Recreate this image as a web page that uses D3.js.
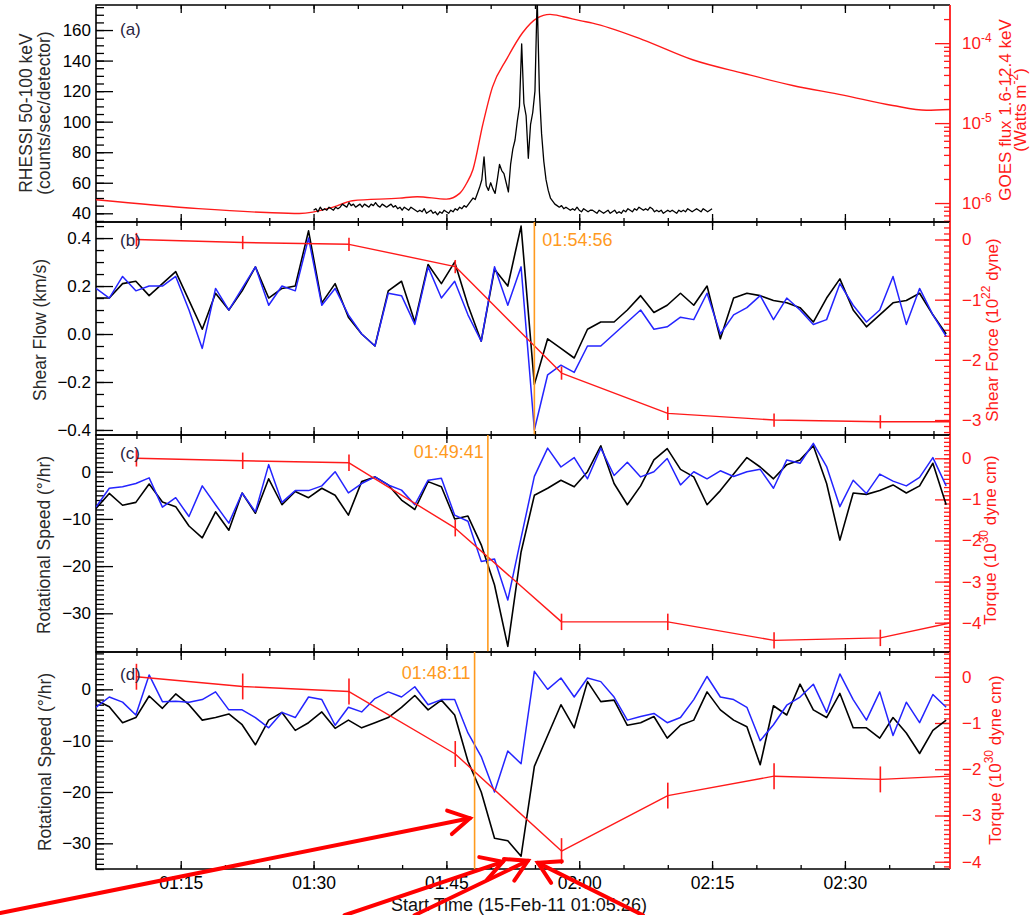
<!DOCTYPE html>
<html>
<head>
<meta charset="utf-8">
<script src="https://cdn.jsdelivr.net/npm/d3@7"></script>
<style>
  body { margin: 0; background: #fff; }
  svg text { font-family: "Liberation Sans", Arial, sans-serif; }
</style>
</head>
<body>
<div id="chart"></div>
<script>
// ---------------- data ----------------
var startTime = "01:05:26";
var endTime = "02:41:52";

// GOES 1.6-12.4 keV flux (W m^-2)
var goesTime = ["01:05:26","01:17:00","01:24:42","01:28:24","01:32:12","01:34:24","01:39:42","01:41:42",
  "01:45:00","01:46:30","01:47:18","01:48:00","01:49:06","01:50:12","01:51:48","01:53:36","01:55:12",
  "01:56:42","01:58:12","02:00:06","02:01:30","02:07:12","02:12:48","02:18:30","02:24:06","02:29:48",
  "02:35:24","02:39:12","02:41:52"];
var goesFlux = [1.10e-6,8.5e-7,7.6e-7,7.4e-7,8.9e-7,1.07e-6,1.15e-6,1.20e-6,
  1.12e-6,1.32e-6,1.78e-6,2.63e-6,9.5e-6,2.82e-5,6.3e-5,1.35e-4,2.04e-4,
  2.29e-4,2.14e-4,1.91e-4,1.78e-4,1.10e-4,6.2e-5,4.2e-5,2.95e-5,2.24e-5,
  1.66e-5,1.45e-5,1.48e-5];

// RHESSI 50-100 keV, 15 s cadence from 01:30:00
var rhessiStart = "01:30:00";
var rhessiStep = 15;
var rhessiCounts = [
  42,43,41,44,42,43,42,44,43,42,44,43,
  44,46,45,44,47,45,46,44,45,46,44,46,
  45,44,46,45,47,45,44,46,45,44,45,46,
  44,45,43,44,42,44,43,42,44,43,42,41,
  42,41,43,40,41,42,40,41,39,41,40,42,
  41,40,42,41,43,42,44,43,
  45,44,46,48,
  50,49,53,57,62,77,58,55,60,56,53,62,72,68,66,60,54,72,82,88,100,110,151,112,104,76,98,106,120,182,120,92,74,62,55,50,48,46,45,44,45,43,
  44,43,42,43,42,44,42,41,43,42,41,42,
  42,41,40,42,41,40,41,42,40,41,42,40,
  41,40,42,41,43,42,41,43,42,44,43,42,
  43,42,44,43,41,42,41,42,40,41,42,41,
  42,41,40,42,41,42,41,43,42,41,42,43,
  42,41,43,42,41,42,43];

// velocity series, 90 s cadence from 01:05:26
var speedStep = 90;
var shearFlowBlack = [0.15,0.15,0.21,0.22,0.16,0.21,0.26,0.14,0.02,0.17,
  0.10,0.18,0.28,0.15,0.19,0.20,0.43,0.13,0.21,0.07,
  0.00,-0.05,0.18,0.22,0.05,0.29,0.21,0.30,0.12,-0.03,
  0.27,0.20,0.45,-0.21,-0.02,-0.06,-0.10,0.02,0.05,0.05,
  0.10,0.16,0.09,0.12,0.17,0.12,0.20,-0.02,0.15,0.17,
  0.16,0.14,0.13,0.11,0.05,0.15,0.23,0.10,0.03,0.08,
  0.13,0.14,0.17,0.08,0.00];
var shearFlowBlue = [0.19,0.15,0.24,0.18,0.20,0.20,0.24,0.10,-0.06,0.19,
  0.10,0.19,0.28,0.12,0.20,0.18,0.40,0.12,0.19,0.08,
  0.00,-0.05,0.17,0.16,0.04,0.28,0.15,0.22,0.08,-0.03,
  0.28,0.12,0.28,-0.40,-0.17,-0.13,-0.16,-0.05,-0.05,0.00,
  0.05,0.10,0.02,0.03,0.07,0.06,0.17,0.00,0.08,0.11,
  0.16,0.06,0.15,0.10,0.04,0.06,0.21,0.12,0.05,0.10,
  0.24,0.04,0.19,0.08,-0.01];
var rotCBlack = [-7.8,-4.6,-7.1,-6.5,-2.6,-6.4,-7.4,-11.5,-14.0,-8.5,
  -12.4,-4.5,-8.8,-1.5,-7.0,-4.2,-5.5,-3.5,-5.0,-9.2,
  -2.1,-1.1,-2.8,-6.0,-8.0,-2.1,-3.2,-10.0,-9.4,-15.5,
  -24.0,-37.0,-17.0,-5.0,-3.5,-1.8,-3.2,0.0,5.5,-2.5,
  -7.0,-3.0,2.5,4.9,0.5,-1.1,-7.0,-4.0,-0.5,3.0,
  1.0,-1.5,1.5,2.5,5.5,-2.5,-14.5,-4.5,-4.8,-4.0,
  -2.8,-4.5,-3.0,1.8,-7.0];
var rotCBlue = [-7.5,-3.5,-3.2,-2.5,-1.3,-7.5,-5.5,-9.5,-3.0,-7.0,
  -10.9,-4.5,-8.5,1.5,-6.5,-4.0,-4.0,-3.0,0.0,-4.5,
  -2.5,-1.1,-2.8,-3.9,-7.0,-1.8,-1.4,-9.2,-10.5,-19.0,
  -18.5,-27.2,-14.0,-1.0,5.0,1.0,3.0,-1.5,5.0,-0.8,
  2.0,-1.1,0.0,2.8,-2.8,0.0,-1.5,0.2,-1.0,0.0,
  0.5,-3.5,2.5,1.8,6.0,1.1,-7.4,-1.8,-4.6,-0.5,
  -2.0,-3.0,-1.2,3.0,-3.0];
var rotDBlack = [-2.1,-3.4,-6.5,-5.5,-1.3,-3.7,-0.9,-3.0,-6.0,-5.5,
  -4.8,-6.9,-10.8,-6.0,-4.5,-8.0,-6.5,-4.4,-7.6,-6.0,
  -7.5,-6.5,-5.5,-3.5,-1.2,-4.0,-2.1,-5.0,-14.0,-20.0,
  -29.0,-29.5,-32.5,-15.0,-9.0,-3.0,-7.5,1.5,-2.4,-2.1,
  -7.0,-6.5,-5.3,-9.5,-7.0,-6.0,-0.5,-4.0,-6.0,-7.3,
  -14.7,-3.2,-5.0,1.0,-4.0,-5.5,-0.8,-7.5,-7.5,-9.5,
  -5.5,-8.5,-12.5,-8.0,-6.0];
var rotDBlue = [-3.5,-1.5,-2.5,-5.0,2.8,-2.4,-2.3,-2.5,-2.0,-0.5,
  -4.0,-4.0,-5.5,-7.5,-4.5,-5.5,-1.5,-2.0,-7.0,-3.5,
  -4.4,-1.8,-0.5,-1.5,0.5,-3.0,-2.0,-2.0,-8.5,-13.1,
  -20.0,-12.0,-14.5,3.5,0.0,2.2,-1.5,2.2,1.5,-1.5,
  -6.0,-5.3,-4.7,-6.5,-5.5,-2.0,2.5,-1.5,-2.0,-3.5,
  -10.0,-6.9,-3.1,-1.5,1.0,-4.5,3.0,-2.0,-6.0,-0.5,
  -9.0,-2.5,-6.5,-1.0,-3.5];

// force / torque estimates with error bars
var forceTime = ["01:10:00","01:22:00","01:34:00","01:46:00","01:58:00","02:10:00","02:22:00","02:34:00","02:46:00"];
var shearForce = [0.0,-0.05,-0.08,-0.45,-2.22,-2.89,-3.00,-3.03,-3.03];
var shearForceErr = [0.11,0.11,0.11,0.11,0.11,0.11,0.11,0.11,0.11];
var torqueC = [0.0,-0.06,-0.11,-1.70,-3.98,-3.98,-4.43,-4.37,-3.82];
var torqueCErr = [0.2,0.2,0.2,0.2,0.2,0.2,0.2,0.2,0.2];
var torqueD = [0.0,-0.21,-0.32,-1.67,-3.77,-2.57,-2.15,-2.22,-2.11];
var torqueDErr = [0.28,0.28,0.28,0.28,0.28,0.28,0.28,0.28,0.28];

// vertical markers
var markerB = "01:54:56", markerC = "01:49:41", markerD = "01:48:11";

// annotation arrows, in panel (d) coordinates: time, rotational speed
var arrowTailTime = ["00:54:34","01:33:30","01:41:24","02:07:12"];
var arrowTailVal = [-43.6,-44.0,-44.0,-44.0];
var arrowTipTime = ["01:47:39","01:51:22","01:54:12","01:55:20"];
var arrowTipVal = [-25.1,-33.6,-33.4,-33.8];

// ---------------- drawing ----------------
var W = 1031, H = 915;
var L = 96, R = 950;
var RED = "#ff1a1a", BLUE = "#2424ff", ORANGE = "#ff9a1e";
var parseT = d3.timeParse("%H:%M:%S");

var svg = d3.select("#chart").append("svg")
    .attr("width", W).attr("height", H)
    .style("background", "#fff");

var x = d3.scaleTime().domain([parseT(startTime), parseT(endTime)]).range([L, R]);

function seriesTimes(start, step, n) {
    var t = parseT(start);
    return d3.range(n).map(function(i) { return d3.timeSecond.offset(t, i * step); });
}

var panels = [
    {top: 5, bottom: 222},
    {top: 222, bottom: 435},
    {top: 435, bottom: 652},
    {top: 652, bottom: 869}
];

function styleAxis(g, color, size) {
    g.select(".domain").remove();
    g.selectAll("line").attr("stroke", color).attr("stroke-width", 1.3);
    g.selectAll("text").attr("fill", color).attr("font-size", size)
        .attr("font-family", "Liberation Sans, Arial, sans-serif");
}

function frame(p, showLabels) {
    var minor = d3.timeMinute.every(5).range(x.domain()[0], x.domain()[1]);
    var major = d3.timeMinute.every(15).range(x.domain()[0], x.domain()[1]);
    svg.append("g").attr("transform", "translate(0," + p.bottom + ")")
        .call(d3.axisBottom(x).tickValues(minor).tickSize(-4).tickFormat(""))
        .call(styleAxis, "#000", 17);
    svg.append("g").attr("transform", "translate(0," + p.bottom + ")")
        .call(d3.axisBottom(x).tickValues(major).tickSize(-8).tickPadding(8)
            .tickFormat(showLabels ? d3.timeFormat("%H:%M") : ""))
        .call(styleAxis, "#000", 17.5);
    svg.append("g").attr("transform", "translate(0," + p.top + ")")
        .call(d3.axisTop(x).tickValues(minor).tickSize(-4).tickFormat(""))
        .call(styleAxis, "#000", 17);
    svg.append("g").attr("transform", "translate(0," + p.top + ")")
        .call(d3.axisTop(x).tickValues(major).tickSize(-8).tickFormat(""))
        .call(styleAxis, "#000", 17);
    svg.append("path")
        .attr("d", "M" + R + "," + p.top + "H" + L + "V" + p.bottom + "H" + R)
        .attr("fill", "none").attr("stroke", "#000").attr("stroke-width", 1.6);
    svg.append("line").attr("x1", R).attr("x2", R).attr("y1", p.top).attr("y2", p.bottom)
        .attr("stroke", RED).attr("stroke-width", 1.8);
}

function leftAxis(y, major, minor, fmt) {
    svg.append("g").attr("transform", "translate(" + L + ",0)")
        .call(d3.axisLeft(y).tickValues(minor).tickSize(-8).tickFormat(""))
        .call(styleAxis, "#000", 17);
    svg.append("g").attr("transform", "translate(" + L + ",0)")
        .call(d3.axisLeft(y).tickValues(major).tickSize(-17).tickPadding(5).tickFormat(fmt))
        .call(styleAxis, "#000", 17);
}

function rightAxis(y, major, minor, fmt) {
    svg.append("g").attr("transform", "translate(" + R + ",0)")
        .call(d3.axisRight(y).tickValues(minor).tickSize(-6).tickFormat(""))
        .call(styleAxis, RED, 17);
    var g = svg.append("g").attr("transform", "translate(" + R + ",0)")
        .call(d3.axisRight(y).tickValues(major).tickSize(-15).tickPadding(12).tickFormat(fmt || ""))
        .call(styleAxis, RED, 17);
    return g;
}

function clipFor(p, id) {
    svg.append("clipPath").attr("id", id).append("rect")
        .attr("x", L).attr("y", p.top).attr("width", R - L).attr("height", p.bottom - p.top);
    return "url(#" + id + ")";
}

function titleLeft(text, cx, cy, color) {
    svg.append("text").attr("transform", "translate(" + cx + "," + cy + ") rotate(-90)")
        .attr("text-anchor", "middle").attr("dominant-baseline", "central")
        .attr("font-size", 17.5).attr("fill", color).text(text);
}

function panelLabel(text, p, dy) {
    svg.append("text").attr("x", 120).attr("y", p.top + dy)
        .attr("font-size", 17).attr("fill", "#2a2440").text(text);
}

function drawLine(data, times, y, color, width, clip, curve) {
    var line = d3.line().x(function(d, i) { return x(times[i]); }).y(function(d) { return y(d); });
    if (curve) line.curve(curve);
    svg.append("path").datum(data).attr("d", line).attr("fill", "none")
        .attr("stroke", color).attr("stroke-width", width)
        .attr("stroke-linejoin", "round").attr("clip-path", clip);
}

function drawForce(vals, errs, y, clip) {
    var times = forceTime.map(parseT);
    drawLine(vals, times, y, RED, 1.4, clip);
    svg.append("g").attr("clip-path", clip).selectAll("line")
        .data(vals).enter().append("line")
        .attr("x1", function(d, i) { return x(times[i]); })
        .attr("x2", function(d, i) { return x(times[i]); })
        .attr("y1", function(d, i) { return y(d - errs[i]); })
        .attr("y2", function(d, i) { return y(d + errs[i]); })
        .attr("stroke", RED).attr("stroke-width", 1.6);
}

function marker(t, p, label, anchor, dy) {
    var xm = x(parseT(t));
    svg.append("line").attr("x1", xm).attr("x2", xm).attr("y1", p.top).attr("y2", p.bottom)
        .attr("stroke", ORANGE).attr("stroke-width", 1.6);
    svg.append("text").attr("x", anchor === "start" ? xm + 8 : xm - 4).attr("y", p.top + dy)
        .attr("text-anchor", anchor).attr("font-size", 18).attr("fill", ORANGE).text(label);
}

function rightTitle(cx, cy, parts) {
    var t = svg.append("text").attr("transform", "translate(" + cx + "," + cy + ") rotate(-90)")
        .attr("text-anchor", "middle").attr("dominant-baseline", "central")
        .attr("font-size", 17).attr("fill", RED);
    parts.forEach(function(p) {
        var s = t.append("tspan").text(p[0]);
        if (p[1]) s.attr("dy", p[1]);
        if (p[2]) s.attr("font-size", p[2]);
    });
}

var speedTimes = seriesTimes(startTime, speedStep, shearFlowBlack.length);

// ---------- panel (a) ----------
var pa = panels[0];
var yA = d3.scaleLinear().domain([34.3, 176.4]).range([pa.bottom, pa.top]);
var yA2 = d3.scaleLog().domain([5.79e-7, 3.0e-4]).range([pa.bottom, pa.top]);
var clipA = clipFor(pa, "clipA");
frame(pa, false);
leftAxis(yA, d3.range(40, 161, 20), d3.range(35, 176, 5), d3.format("d"));
var logMinor = [];
[1e-7, 1e-6, 1e-5, 1e-4].forEach(function(dec) {
    d3.range(2, 10).forEach(function(m) {
        var v = m * dec;
        if (v > yA2.domain()[0] && v < yA2.domain()[1]) logMinor.push(v);
    });
});
rightAxis(yA2, [1e-6, 1e-5, 1e-4], logMinor, null);
var decades = [{v: 1e-6, e: "-6"}, {v: 1e-5, e: "-5"}, {v: 1e-4, e: "-4"}];
var lab = svg.append("g").selectAll("text").data(decades).enter().append("text")
    .attr("x", R + 12).attr("y", function(d) { return yA2(d.v) + 6; })
    .attr("font-size", 17).attr("fill", RED);
lab.append("tspan").text("10");
lab.append("tspan").attr("dy", -7).attr("font-size", 12).text(function(d) { return d.e; });

var rhTimes = seriesTimes(rhessiStart, rhessiStep, rhessiCounts.length);
drawLine(goesFlux, goesTime.map(parseT), yA2, RED, 1.4, clipA, d3.curveMonotoneX);
drawLine(rhessiCounts, rhTimes, yA, "#000", 1.3, clipA);
titleLeft("RHESSI 50-100 keV", 26, 113, "#2a2a2a");
titleLeft("(counts/sec/detector)", 44, 113, "#2a2a2a");
rightTitle(1005, 110, [["GOES flux 1.6-12.4 keV"]]);
rightTitle(1020, 110, [["(Watts m"], ["-2", -6, 12], [")", 6]]);
panelLabel("(a)", pa, 30);

// ---------- panel (b) ----------
var pb = panels[1];
var yB = d3.scaleLinear().domain([-0.421, 0.467]).range([pb.bottom, pb.top]);
var yB2 = d3.scaleLinear().domain([-3.249, 0.291]).range([pb.bottom, pb.top]);
var clipB = clipFor(pb, "clipB");
frame(pb, false);
leftAxis(yB, [-0.4, -0.2, 0, 0.2, 0.4], d3.range(-40, 46, 5).map(function(d) { return d / 100; }), d3.format(".1f"));
rightAxis(yB2, [-3, -2, -1, 0], d3.range(-32, 3).map(function(d) { return d / 10; }), d3.format("d"));
drawLine(shearFlowBlack, speedTimes, yB, "#000", 1.6, clipB);
drawLine(shearFlowBlue, speedTimes, yB, BLUE, 1.5, clipB);
drawForce(shearForce, shearForceErr, yB2, clipB);
marker(markerB, pb, markerB, "start", 24);
titleLeft("Shear Flow (km/s)", 40, 330, "#2a2a2a");
rightTitle(992, 330, [["Shear Force (10"], ["22", -6, 12], [" dyne)", 6]]);
panelLabel("(b)", pb, 24);

// ---------- panel (c) ----------
var pc = panels[2];
var yC = d3.scaleLinear().domain([-38.2, 7.78]).range([pc.bottom, pc.top]);
var yC2 = d3.scaleLinear().domain([-4.713, 0.567]).range([pc.bottom, pc.top]);
var clipC = clipFor(pc, "clipC");
frame(pc, false);
leftAxis(yC, [-30, -20, -10, 0], d3.range(-38, 8), d3.format("d"));
rightAxis(yC2, [-4, -3, -2, -1, 0], d3.range(-47, 6).map(function(d) { return d / 10; }), d3.format("d"));
drawLine(rotCBlack, speedTimes, yC, "#000", 1.6, clipC);
drawLine(rotCBlue, speedTimes, yC, BLUE, 1.5, clipC);
drawForce(torqueC, torqueCErr, yC2, clipC);
marker(markerC, pc, markerC, "end", 23);
titleLeft("Rotational Speed (\u00b0/hr)", 44, 545, "#2a2a2a");
rightTitle(990, 540, [["Torque (10"], ["30", -6, 12], [" dyne cm)", 6]]);
panelLabel("(c)", pc, 24);

// ---------- panel (d) ----------
var pd = panels[3];
var yD = d3.scaleLinear().domain([-35.0, 7.27]).range([pd.bottom, pd.top]);
var yD2 = d3.scaleLinear().domain([-4.157, 0.535]).range([pd.bottom, pd.top]);
var clipD = clipFor(pd, "clipD");
frame(pd, true);
leftAxis(yD, [-30, -20, -10, 0], d3.range(-35, 8), d3.format("d"));
rightAxis(yD2, [-4, -3, -2, -1, 0], d3.range(-41, 6).map(function(d) { return d / 10; }), d3.format("d"));
drawLine(rotDBlack, speedTimes, yD, "#000", 1.6, clipD);
drawLine(rotDBlue, speedTimes, yD, BLUE, 1.5, clipD);
drawForce(torqueD, torqueDErr, yD2, clipD);
marker(markerD, pd, markerD, "end", 27);
titleLeft("Rotational Speed (\u00b0/hr)", 45, 762, "#2a2a2a");
rightTitle(995, 760, [["Torque (10"], ["30", -6, 12], [" dyne cm)", 6]]);
panelLabel("(d)", pd, 28);

svg.append("text").attr("x", (L + R) / 2 - 4).attr("y", 911)
    .attr("text-anchor", "middle").attr("font-size", 18).attr("fill", "#111")
    .text("Start Time (15-Feb-11 01:05:26)");

// ---------- annotation arrows ----------
var arrows = svg.append("g").attr("stroke", "#ff0000").attr("stroke-width", 4)
    .attr("stroke-linecap", "round").attr("fill", "none");
arrowTipTime.forEach(function(tt, i) {
    var x1 = x(parseT(arrowTailTime[i])), y1 = yD(arrowTailVal[i]);
    var x2 = x(parseT(tt)), y2 = yD(arrowTipVal[i]);
    var a = Math.atan2(y2 - y1, x2 - x1), len = 24, sp = Math.PI / 6;
    arrows.append("line").attr("x1", x1).attr("y1", y1).attr("x2", x2).attr("y2", y2);
    arrows.append("path").attr("d",
        "M" + (x2 - len * Math.cos(a - sp)) + "," + (y2 - len * Math.sin(a - sp)) +
        "L" + x2 + "," + y2 +
        "L" + (x2 - len * Math.cos(a + sp)) + "," + (y2 - len * Math.sin(a + sp)));
});
</script>
</body>
</html>
